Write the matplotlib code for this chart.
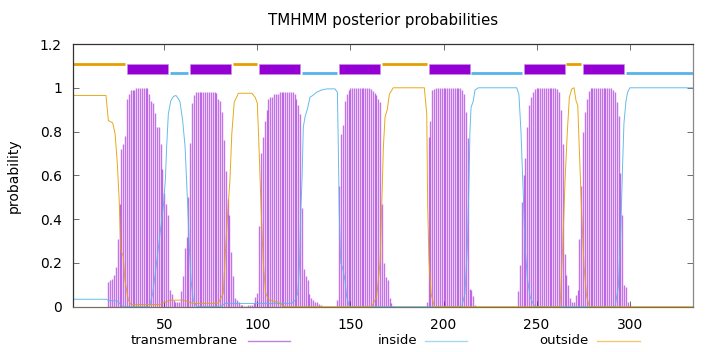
import matplotlib
matplotlib.use("Agg")
import matplotlib.pyplot as plt
from matplotlib.patches import Rectangle
from matplotlib.lines import Line2D

# posterior probability of transmembrane state, residue 1..334
tm_prob = [
    0, 0, 0, 0, 0, 0, 0, 0, 0, 0,
    0, 0, 0, 0, 0, 0, 0, 0, 0, 0.114,
    0.12, 0.125, 0.144, 0.18, 0.31, 0.47, 0.72, 0.745, 0.78, 0.95,
    0.97, 0.99, 0.99, 0.99, 1.0, 1.0, 1.0, 1.0, 1.0, 1.0,
    1.0, 0.97, 0.94, 0.93, 0.885, 0.82, 0.82, 0.745, 0.63, 0.52,
    0.47, 0.42, 0.076, 0.06, 0.03, 0.02, 0.02, 0.02, 0.07, 0.14,
    0.27, 0.32, 0.5, 0.75, 0.93, 0.965, 0.983, 0.983, 0.983, 0.983,
    0.983, 0.983, 0.983, 0.983, 0.983, 0.983, 0.983, 0.975, 0.95, 0.94,
    0.89, 0.76, 0.62, 0.49, 0.42, 0.25, 0.14, 0.04, 0.03, 0.02,
    0.01, 0.01, 0.005, 0.005, 0.01, 0.01, 0.01, 0.015, 0.045, 0.064,
    0.37, 0.7, 0.775, 0.85, 0.9, 0.95, 0.957, 0.96, 0.97, 0.97,
    0.97, 0.98, 0.98, 0.98, 0.98, 0.98, 0.98, 0.98, 0.98, 0.97,
    0.95, 0.92, 0.88, 0.45, 0.17, 0.14, 0.12, 0.06, 0.04, 0.03,
    0.023, 0.02, 0.012, 0.008, 0, 0, 0, 0, 0, 0,
    0, 0, 0.03, 0.55, 0.79, 0.83, 0.94, 0.97, 0.99, 1.0,
    1.0, 1.0, 1.0, 1.0, 1.0, 1.0, 1.0, 1.0, 1.0, 1.0,
    0.995, 0.985, 0.975, 0.965, 0.95, 0.935, 0.47, 0.2, 0.137, 0.12,
    0.04, 0.015, 0.005, 0, 0, 0, 0, 0, 0, 0,
    0, 0, 0, 0, 0, 0, 0, 0, 0, 0,
    0.02, 0.775, 0.85, 0.99, 0.995, 1.0, 1.0, 1.0, 1.0, 1.0,
    1.0, 1.0, 1.0, 1.0, 1.0, 1.0, 1.0, 1.0, 1.0, 0.99,
    0.97, 0.89, 0.77, 0.08, 0.076, 0.05, 0.01, 0, 0, 0,
    0, 0, 0, 0, 0, 0, 0, 0, 0, 0,
    0, 0, 0, 0, 0, 0, 0, 0, 0, 0.07,
    0.19, 0.48, 0.6, 0.68, 0.82, 0.92, 0.96, 0.98, 0.995, 1.0,
    1.0, 1.0, 1.0, 1.0, 1.0, 1.0, 1.0, 1.0, 1.0, 1.0,
    0.995, 0.98, 0.9, 0.745, 0.24, 0.144, 0.1, 0.04, 0.02, 0.02,
    0.053, 0.076, 0.31, 0.55, 0.8, 0.89, 0.95, 0.985, 1.0, 1.0,
    1.0, 1.0, 1.0, 1.0, 1.0, 1.0, 1.0, 1.0, 1.0, 1.0,
    0.99, 0.98, 0.935, 0.87, 0.61, 0.42, 0.1, 0.09, 0.02, 0.01,
    0, 0, 0, 0, 0, 0, 0, 0, 0, 0,
    0, 0, 0, 0, 0, 0, 0, 0, 0, 0,
    0, 0, 0, 0, 0, 0, 0, 0, 0, 0,
    0, 0, 0, 0,
]
residues = list(range(1, len(tm_prob) + 1))

# inside / outside curves, read as (residue, probability) vertices
inside_x = [1, 19.1, 20.0, 24.5, 28.0, 42.0, 43.8, 45.6, 47.7, 49.5, 50.6, 51.3,
            52.2, 53.5, 54.9, 56.3, 57.6, 58.5, 59.9, 61.2, 62.4, 63.5, 64.4,
            65.6, 67.5, 80.0, 82.7, 118.5, 120.2, 121.7, 122.6, 123.3, 124.0,
            124.7, 125.6, 127.1, 128.3, 129.8, 131.9, 134.6, 137.3, 141.7,
            143.0, 143.5, 144.0, 144.8, 145.9, 147.1, 148.0, 149.4, 209.8,
            211.5, 212.8, 213.7, 214.2, 214.8, 216.0, 216.9, 218.7, 239.3,
            240.5, 241.6, 242.9, 243.8, 245.2, 246.5, 248.3, 250.0, 292.1,
            293.9, 295.2, 296.2, 296.9, 298.0, 298.9, 300.1, 334]
inside_y = [0.034, 0.034, 0.028, 0.027, 0.0, 0.0, 0.06, 0.18, 0.33, 0.456, 0.58, 0.73,
            0.88, 0.94, 0.96, 0.965, 0.95, 0.934, 0.85, 0.73, 0.5, 0.27, 0.12,
            0.03, 0.0, 0.0, 0.015, 0.015, 0.03, 0.06, 0.18, 0.43, 0.58,
            0.82, 0.866, 0.91, 0.957, 0.965, 0.98, 0.99, 0.995, 0.995,
            0.98, 0.73, 0.43, 0.2, 0.175, 0.12, 0.046, 0.0, 0.0,
            0.06, 0.27, 0.58, 0.8, 0.91, 0.94, 0.99, 1.0, 1.0,
            0.97, 0.8, 0.5, 0.27, 0.12, 0.046, 0.01, 0.0, 0.0,
            0.09, 0.35, 0.65, 0.836, 0.94, 0.98, 1.0, 1.0]

outside_x = [1, 18.7, 20.0, 22.3, 23.6, 24.8, 25.9, 26.6, 28.0, 28.9, 30.7, 32.2,
             47.7, 53.1, 60.3, 65.6, 78.2, 79.1, 81.7, 83.0, 84.1, 85.3, 86.3,
             87.6, 88.9, 89.8, 97.0, 98.8, 100.0, 100.9, 102.0, 103.2, 104.5,
             106.3, 111.3, 112.7, 114.9, 161.4, 164.1, 165.9, 166.8, 167.7,
             168.6, 169.8, 170.9, 173.0, 189.7, 191.0, 191.5, 192.2, 193.3,
             195.1, 262.6, 264.0, 265.3, 266.5, 267.6, 268.9, 270.1, 271.2,
             272.1, 272.9, 274.2, 275.5, 276.9, 278.3, 334]
outside_y = [0.965, 0.965, 0.85, 0.84, 0.79, 0.655, 0.47, 0.26, 0.23, 0.12, 0.03, 0.01,
             0.01, 0.03, 0.03, 0.015, 0.015, 0.018, 0.06, 0.27, 0.43, 0.58, 0.79,
             0.935, 0.957, 0.975, 0.975, 0.957, 0.93, 0.73, 0.456, 0.2, 0.06,
             0.03, 0.02, 0.01, 0.0, 0.0, 0.046, 0.2, 0.456, 0.73,
             0.866, 0.9, 0.97, 1.0, 1.0, 0.88, 0.456, 0.21, 0.06,
             0.0, 0.0, 0.27, 0.58, 0.8, 0.957, 0.995, 1.0, 0.94,
             0.92, 0.73, 0.43, 0.18, 0.046, 0.0, 0.0]

# predicted topology (start, end, state)
seg_start = [1, 30, 53, 64, 87, 101, 124, 144, 167, 192, 215, 243, 266, 275, 298]
seg_end = [29, 52, 63, 86, 100, 123, 143, 166, 191, 214, 242, 265, 274, 297, 334]
seg_state = ['outside', 'TMhelix', 'inside', 'TMhelix', 'outside', 'TMhelix',
             'inside', 'TMhelix', 'outside', 'TMhelix', 'inside', 'TMhelix',
             'outside', 'TMhelix', 'inside']

c_tm = '#9400d3'
c_in = '#56b4e9'
c_out = '#e69f00'

plt.rcParams['font.family'] = ['DejaVu Sans']
plt.rcParams['font.size'] = 9.5

fig = plt.figure(figsize=(7.2, 3.52), dpi=100)
ax = fig.add_axes([73/720, 1 - 306.7/352, 620/720, (306.7 - 44)/352])

ax.vlines(residues, 0, tm_prob, color=c_tm, alpha=0.55, lw=1.0)
ax.plot(inside_x, inside_y, color=c_in, lw=0.7, alpha=0.9)
ax.plot(outside_x, outside_y, color=c_out, lw=0.7, alpha=0.9)

for s, e, st in zip(seg_start, seg_end, seg_state):
    if st == 'TMhelix':
        ax.add_patch(Rectangle((s, 1.065), e - s, 0.044, facecolor=c_tm,
                               edgecolor='#c890e0', lw=0.4))
    elif st == 'inside':
        ax.hlines(1.068, s, e, color=c_in, lw=2)
    else:
        ax.hlines(1.108, s, e, color=c_out, lw=2)

ax.set_xlim(1, 334)
ax.set_ylim(0, 1.2)
ax.set_xticks([50, 100, 150, 200, 250, 300])
ax.set_yticks([0, 0.2, 0.4, 0.6, 0.8, 1.0, 1.2])
ax.set_yticklabels(['0', '0.2', '0.4', '0.6', '0.8', '1', '1.2'])
ax.tick_params(direction='in', top=True, right=True, length=4, width=0.6,
               color='#555555', pad=8, labelsize=10)
for sp in ax.spines.values():
    sp.set_linewidth(0.9)
    sp.set_color('#333333')
ax.spines['right'].set_color('#888888')
ax.spines['bottom'].set_color('#7a7060')

ax.set_ylabel('probability', labelpad=14, fontsize=10)
fig.text(383/720, 1 - 20/352, 'TMHMM posterior probabilities', ha='center',
         va='center', fontsize=10.8)

# key below the plot: text then sample line
key_y = 1 - 341/352
for txt, tx, x0, x1, col in [('transmembrane', 238, 248, 290, '#c080e0'),
                             ('inside', 417, 425, 467, '#a8d8f0'),
                             ('outside', 589, 597, 640, '#f0c878')]:
    fig.text(tx/720, key_y, txt, ha='right', va='center')
    fig.add_artist(Line2D([x0/720, x1/720], [key_y, key_y], color=col,
                          lw=1.0, transform=fig.transFigure))

fig.savefig('out.png', dpi=100)
